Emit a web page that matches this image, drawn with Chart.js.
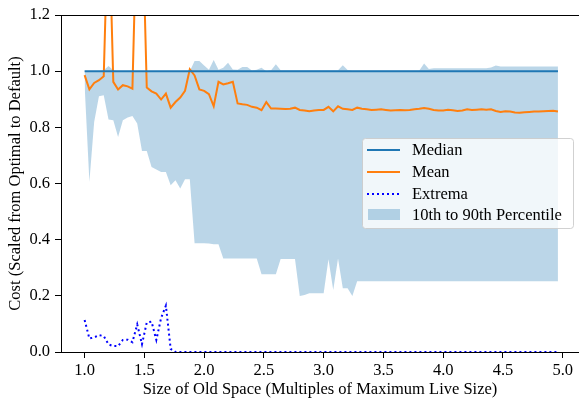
<!DOCTYPE html>
<html><head><meta charset="utf-8">
<script src="https://cdn.jsdelivr.net/npm/chart.js@4.4.1/dist/chart.umd.min.js"></script>
<style>html,body{margin:0;padding:0;background:#fff;}canvas{display:block;}</style>
</head><body>
<canvas id="c" width="579" height="398"></canvas>
<script>
const xValues = [1.00,1.04,1.08,1.12,1.16,1.20,1.24,1.28,1.32,1.36,1.40,1.44,1.48,1.52,1.56,1.60,1.64,1.68,1.72,1.76,
1.80,1.84,1.88,1.92,1.96,2.00,2.04,2.08,2.12,2.16,2.20,2.24,2.28,2.32,2.36,2.40,2.44,2.48,2.52,2.56,
2.60,2.64,2.68,2.72,2.76,2.80,2.84,2.88,2.92,2.96,3.00,3.04,3.08,3.12,3.16,3.20,3.24,3.28,3.32,3.36,
3.40,3.44,3.48,3.52,3.56,3.60,3.64,3.68,3.72,3.76,3.80,3.84,3.88,3.92,3.96,4.00,4.04,4.08,4.12,4.16,
4.20,4.24,4.28,4.32,4.36,4.40,4.44,4.48,4.52,4.56,4.60,4.64,4.68,4.72,4.76,4.80,4.84,4.88,4.92,4.96];

const median = [1,1,1,1,1,1,1,1,1,1,1,1,1,1,1,1,1,1,1,1,
1,1,1,1,1,1,1,1,1,1,1,1,1,1,1,1,1,1,1,1,
1,1,1,1,1,1,1,1,1,1,1,1,1,1,1,1,1,1,1,1,
1,1,1,1,1,1,1,1,1,1,1,1,1,1,1,1,1,1,1,1,
1,1,1,1,1,1,1,1,1,1,1,1,1,1,1,1,1,1,1,1];

const mean = [0.986,0.935,0.958,0.968,0.982,1.600,0.962,0.935,0.950,0.946,0.938,1.600,1.600,0.942,0.928,0.920,0.899,0.920,0.870,0.890,
0.906,0.930,1.007,0.985,0.935,0.930,0.918,0.875,0.962,0.953,0.957,0.962,0.885,0.882,0.880,0.873,0.870,0.861,0.890,0.867,
0.867,0.866,0.865,0.866,0.870,0.862,0.860,0.857,0.860,0.862,0.862,0.873,0.857,0.875,0.866,0.864,0.862,0.870,0.866,0.864,
0.862,0.863,0.864,0.862,0.860,0.861,0.862,0.861,0.862,0.864,0.866,0.869,0.866,0.862,0.860,0.860,0.863,0.861,0.858,0.860,
0.864,0.862,0.863,0.864,0.863,0.864,0.858,0.855,0.857,0.856,0.853,0.852,0.854,0.855,0.856,0.856,0.857,0.858,0.859,0.856];

const extrema = [0.114,0.048,0.052,0.060,0.057,0.027,0.021,0.021,0.043,0.044,0.035,0.098,0.028,0.105,0.108,0.043,0.121,0.165,0.011,0,
0,0,0,0,0,0,0,0,0,0,0,0,0,0,0,0,0,0,0,0,
0,0,0,0,0,0,0,0,0,0,0,0,0,0,0,0,0,0,0,0,
0,0,0,0,0,0,0,0,0,0,0,0,0,0,0,0,0,0,0,0,
0,0,0,0,0,0,0,0,0,0,0,0,0,0,0,0,0,0,0,0];

const p10 = [0.950,0.606,0.819,0.911,0.914,0.828,0.825,0.766,0.825,0.835,0.840,0.814,0.716,0.716,0.659,0.650,0.641,0.641,0.594,0.612,
0.582,0.615,0.615,0.387,0.387,0.387,0.386,0.384,0.384,0.333,0.333,0.333,0.333,0.333,0.333,0.333,0.333,0.277,0.277,0.277,
0.277,0.331,0.331,0.331,0.331,0.199,0.203,0.209,0.209,0.209,0.209,0.330,0.221,0.333,0.227,0.227,0.199,0.252,0.252,0.252,
0.252,0.252,0.252,0.252,0.252,0.252,0.252,0.252,0.252,0.252,0.252,0.252,0.252,0.252,0.252,0.252,0.252,0.252,0.252,0.252,
0.252,0.252,0.252,0.252,0.252,0.252,0.252,0.252,0.252,0.252,0.252,0.252,0.252,0.252,0.252,0.252,0.252,0.252,0.252,0.252];

const p90 = [1.000,1.000,1.000,1.000,1.003,1.018,1.003,1.000,1.000,1.000,1.000,1.000,1.000,1.000,1.000,1.000,1.000,1.000,1.000,1.000,
1.000,1.000,1.000,1.036,1.036,1.020,1.005,1.040,1.005,1.012,1.030,1.006,1.005,1.015,1.015,1.002,1.005,1.012,1.000,1.003,
1.025,1.003,1.003,1.003,1.003,1.003,1.003,1.003,1.003,1.003,1.003,1.003,1.003,1.003,1.021,1.004,1.002,1.002,1.002,1.002,
1.002,1.002,1.002,1.002,1.002,1.002,1.002,1.002,1.002,1.002,1.002,1.027,1.008,1.010,1.010,1.010,1.010,1.010,1.010,1.010,
1.010,1.010,1.010,1.010,1.010,1.013,1.020,1.017,1.017,1.017,1.017,1.017,1.017,1.017,1.017,1.017,1.017,1.017,1.017,1.017];

const xTicks = [1.0,1.5,2.0,2.5,3.0,3.5,4.0,4.5,5.0];
const yTicks = [0.0,0.2,0.4,0.6,0.8,1.0,1.2];
const seriesLabels = ['Median','Mean','Extrema','10th to 90th Percentile'];
const xTitle = 'Size of Old Space (Multiples of Maximum Live Size)';
const yTitle = 'Cost (Scaled from Optimal to Default)';

const pts = arr => arr.map((v,i) => ({x: xValues[i], y: v}));
const FONT = "'Liberation Serif', 'Times New Roman', serif";
Chart.defaults.font.family = FONT;
Chart.defaults.font.size = 16.5;
Chart.defaults.color = '#000';

const BAND = 'rgba(31,119,180,0.3)';

const spinePlugin = {
  id: 'spines',
  afterDatasetsDraw(chart) {
    const {ctx, chartArea} = chart;
    ctx.save();
    ctx.strokeStyle = '#000';
    ctx.lineWidth = 1;
    ctx.beginPath();
    ctx.moveTo(chartArea.left, chartArea.top + 0.5);
    ctx.lineTo(chartArea.right, chartArea.top + 0.5);
    ctx.stroke();
    ctx.restore();
  }
};

const legendPlugin = {
  id: 'boxLegend',
  afterDraw(chart) {
    const ctx = chart.ctx;
    const ds = chart.data.datasets;
    ctx.save();
    const bx = 362.5, by = 138.5, bw = 211, bh = 90;
    ctx.beginPath();
    ctx.roundRect(bx, by, bw, bh, 3);
    ctx.fillStyle = 'rgba(255,255,255,0.8)';
    ctx.fill();
    ctx.strokeStyle = 'rgba(204,204,204,0.9)';
    ctx.lineWidth = 1;
    ctx.stroke();
    const rows = [150, 172, 194, 215];
    const items = [ds[0], ds[1], ds[2], ds[4]];
    ctx.font = '16.5px ' + FONT;
    ctx.textBaseline = 'middle';
    ctx.textAlign = 'left';
    items.forEach((d, i) => {
      const y = rows[i];
      if (i < 3) {
        ctx.beginPath();
        ctx.strokeStyle = d.borderColor;
        ctx.lineWidth = d.borderWidth;
        ctx.setLineDash(d.borderDash || []);
        ctx.moveTo(367, y);
        ctx.lineTo(400, y);
        ctx.stroke();
        ctx.setLineDash([]);
      } else {
        ctx.fillStyle = BAND;
        ctx.fillRect(368, y - 6, 32, 11);
      }
      ctx.fillStyle = '#000';
      ctx.fillText(d.label, 412, y + 1);
    });
    ctx.restore();
  }
};

new Chart(document.getElementById('c'), {
  type: 'line',
  data: {
    datasets: [
      {label: seriesLabels[0], data: pts(median), borderColor: '#1f77b4', borderWidth: 2, pointRadius: 0, fill: false},
      {label: seriesLabels[1], data: pts(mean), borderColor: '#ff7f0e', borderWidth: 2, pointRadius: 0, fill: false},
      {label: seriesLabels[2], data: pts(extrema), borderColor: '#0000ff', borderWidth: 2, borderDash: [2, 3], pointRadius: 0, fill: false},
      {label: 'p10', data: pts(p10), borderWidth: 0, borderColor: 'rgba(0,0,0,0)', pointRadius: 0, fill: false},
      {label: seriesLabels[3], data: pts(p90), borderWidth: 0, borderColor: 'rgba(0,0,0,0)', backgroundColor: BAND, pointRadius: 0, fill: '-1'}
    ]
  },
  options: {
    responsive: false,
    animation: false,
    devicePixelRatio: 1,
    layout: {padding: {top: 15, right: 0, bottom: 0, left: 0}},
    plugins: {legend: {display: false}, tooltip: {enabled: false}},
    elements: {line: {tension: 0}},
    scales: {
      x: {
        type: 'linear', min: 0.8025, max: 5.136,
        afterBuildTicks: s => { s.ticks = xTicks.map(v => ({value: v})); },
        afterFit: s => { s.height = 46; },
        ticks: {padding: 3, callback: v => v.toFixed(1), maxRotation: 0, autoSkip: false},
        grid: {drawOnChartArea: false, drawTicks: true, tickLength: 6, color: '#000', lineWidth: 1},
        border: {display: true, color: '#000', width: 1},
        title: {display: true, text: xTitle, font: {size: 16.5, lineHeight: 1}, padding: {top: 0, bottom: 0}}
      },
      y: {
        type: 'linear', min: 0, max: 1.2,
        afterBuildTicks: s => { s.ticks = yTicks.map(v => ({value: v})); },
        afterFit: s => { s.width = 61; },
        ticks: {padding: 5, callback: v => v.toFixed(1), autoSkip: false},
        grid: {drawOnChartArea: false, drawTicks: true, tickLength: 6, color: '#000', lineWidth: 1},
        border: {display: true, color: '#000', width: 1},
        title: {display: true, text: yTitle, font: {size: 16.5, lineHeight: 1}, padding: {top: 7, bottom: 0}}
      }
    }
  },
  plugins: [spinePlugin, legendPlugin]
});
</script>
</body></html>
